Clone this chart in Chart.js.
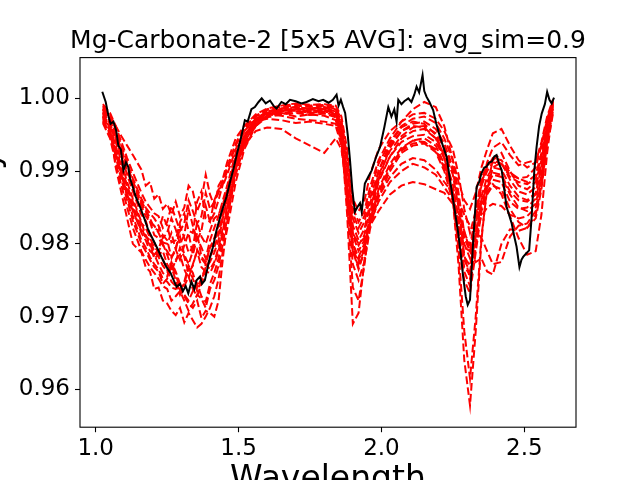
<!DOCTYPE html>
<html>
<head>
<meta charset="utf-8">
<script src="https://cdn.jsdelivr.net/npm/chart.js@4.4.1/dist/chart.umd.min.js"></script>
<style>
  html, body { margin: 0; padding: 0; background: #fff; overflow: hidden; }
  #chart { position: absolute; left: 0; top: 0; }
</style>
</head>
<body>
<canvas id="chart" width="640" height="480"></canvas>
<script>
// title / axis text
const chartTitle = 'Mg-Carbonate-2 [5x5 AVG]: avg_sim=0.9';
const xTitle = 'Wavelength';
const yTitle = 'Reflectivity';

// tick positions
const xTicks = [1.0, 1.5, 2.0, 2.5];
const yTicks = [0.96, 0.97, 0.98, 0.99, 1.00];

// wavelength grid shared by the red (neighbour pixel) spectra
const redWavelength = [1.025, 1.05, 1.07, 1.09, 1.11, 1.13,
  1.16, 1.175, 1.19, 1.205, 1.22, 1.235, 1.25, 1.265, 1.28, 1.295, 1.31, 1.325, 1.34, 1.355, 1.37, 1.385, 1.40, 1.415, 1.43, 1.445, 1.46,
  1.49, 1.52, 1.56, 1.60, 1.65, 1.70, 1.75, 1.80, 1.84,
  1.86, 1.88, 1.90, 1.92, 1.94, 1.96, 1.99, 2.03, 2.07, 2.11, 2.15, 2.19, 2.22, 2.25, 2.27,
  2.29, 2.31, 2.33, 2.35, 2.37, 2.39, 2.42, 2.45, 2.48, 2.51, 2.54, 2.56, 2.58, 2.60];

const spectrum01 = [0.9988, 0.9975, 0.9962, 0.9948, 0.9935, 0.9922,
  0.9902, 0.9880, 0.9885, 0.9862, 0.9868, 0.9848, 0.9855, 0.9840, 0.9858, 0.9838, 0.9850, 0.9880, 0.9872, 0.9845, 0.9860, 0.9895, 0.9868, 0.9852, 0.9880, 0.9890, 0.9912,
  0.9945, 0.9962, 0.9978, 0.9986, 0.9990, 0.9993, 0.9991, 0.9992, 0.9990,
  0.9975, 0.9930, 0.9862, 0.9845, 0.9858, 0.9895, 0.9930, 0.9955, 0.9968, 0.9978, 0.9980, 0.9972, 0.9955, 0.9930, 0.9895,
  0.9848, 0.9815, 0.9845, 0.9890, 0.9908, 0.9915, 0.9910, 0.9895, 0.9890, 0.9892, 0.9905, 0.9935, 0.9972, 0.9995];
const spectrum02 = [0.9980, 0.9958, 0.9905, 0.9870, 0.9835, 0.9800,
  0.9788, 0.9768, 0.9762, 0.9738, 0.9740, 0.9722, 0.9718, 0.9708, 0.9702, 0.9712, 0.9692, 0.9705, 0.9695, 0.9685, 0.9690, 0.9700, 0.9712, 0.9728, 0.9752, 0.9790, 0.9820,
  0.9885, 0.9930, 0.9962, 0.9976, 0.9983, 0.9985, 0.9982, 0.9984, 0.9980,
  0.9955, 0.9880, 0.9790, 0.9765, 0.9790, 0.9840, 0.9885, 0.9920, 0.9945, 0.9955, 0.9958, 0.9945, 0.9925, 0.9895, 0.9850,
  0.9785, 0.9752, 0.9805, 0.9860, 0.9885, 0.9898, 0.9895, 0.9872, 0.9860, 0.9858, 0.9868, 0.9905, 0.9955, 0.9990];
const spectrum03 = [0.9972, 0.9960, 0.9945, 0.9920, 0.9895, 0.9872,
  0.9840, 0.9832, 0.9812, 0.9802, 0.9785, 0.9778, 0.9765, 0.9748, 0.9742, 0.9738, 0.9728, 0.9718, 0.9712, 0.9722, 0.9698, 0.9708, 0.9705, 0.9700, 0.9722, 0.9780, 0.9830,
  0.9905, 0.9945, 0.9968, 0.9978, 0.9980, 0.9975, 0.9978, 0.9976, 0.9970,
  0.9940, 0.9870, 0.9800, 0.9778, 0.9795, 0.9830, 0.9872, 0.9905, 0.9930, 0.9942, 0.9940, 0.9928, 0.9905, 0.9870, 0.9825,
  0.9782, 0.9770, 0.9810, 0.9858, 0.9878, 0.9888, 0.9885, 0.9858, 0.9848, 0.9850, 0.9862, 0.9895, 0.9948, 0.9985];
const spectrum04 = [0.9985, 0.9968, 0.9940, 0.9912, 0.9885, 0.9862,
  0.9830, 0.9810, 0.9805, 0.9790, 0.9782, 0.9770, 0.9762, 0.9768, 0.9750, 0.9730, 0.9742, 0.9755, 0.9738, 0.9728, 0.9745, 0.9762, 0.9760, 0.9772, 0.9790, 0.9818, 0.9850,
  0.9905, 0.9942, 0.9970, 0.9982, 0.9986, 0.9988, 0.9985, 0.9987, 0.9982,
  0.9950, 0.9840, 0.9690, 0.9705, 0.9775, 0.9840, 0.9900, 0.9938, 0.9960, 0.9968, 0.9965, 0.9950, 0.9920, 0.9860, 0.9770,
  0.9640, 0.9578, 0.9680, 0.9805, 0.9880, 0.9915, 0.9925, 0.9900, 0.9880, 0.9875, 0.9885, 0.9915, 0.9962, 0.9993];
const spectrum05 = [0.9978, 0.9962, 0.9925, 0.9898, 0.9872, 0.9848,
  0.9815, 0.9805, 0.9790, 0.9785, 0.9772, 0.9760, 0.9755, 0.9775, 0.9762, 0.9745, 0.9748, 0.9770, 0.9760, 0.9740, 0.9752, 0.9768, 0.9775, 0.9788, 0.9805, 0.9835, 0.9862,
  0.9912, 0.9948, 0.9972, 0.9980, 0.9985, 0.9984, 0.9986, 0.9985, 0.9978,
  0.9945, 0.9855, 0.9740, 0.9722, 0.9770, 0.9830, 0.9890, 0.9932, 0.9955, 0.9962, 0.9960, 0.9945, 0.9918, 0.9870, 0.9790,
  0.9680, 0.9615, 0.9700, 0.9810, 0.9875, 0.9905, 0.9912, 0.9888, 0.9872, 0.9868, 0.9878, 0.9910, 0.9958, 0.9992];
const spectrum06 = [0.9975, 0.9955, 0.9930, 0.9905, 0.9880, 0.9858,
  0.9828, 0.9822, 0.9808, 0.9795, 0.9790, 0.9800, 0.9785, 0.9768, 0.9775, 0.9795, 0.9782, 0.9760, 0.9770, 0.9792, 0.9780, 0.9772, 0.9795, 0.9808, 0.9825, 0.9850, 0.9875,
  0.9920, 0.9950, 0.9968, 0.9972, 0.9970, 0.9966, 0.9968, 0.9965, 0.9962,
  0.9935, 0.9865, 0.9800, 0.9782, 0.9800, 0.9828, 0.9858, 0.9885, 0.9900, 0.9910, 0.9905, 0.9895, 0.9878, 0.9860, 0.9842,
  0.9818, 0.9790, 0.9775, 0.9780, 0.9762, 0.9758, 0.9800, 0.9820, 0.9818, 0.9822, 0.9840, 0.9880, 0.9940, 0.9982];
const spectrum07 = [0.9982, 0.9965, 0.9948, 0.9925, 0.9900, 0.9880,
  0.9852, 0.9838, 0.9830, 0.9825, 0.9815, 0.9802, 0.9800, 0.9815, 0.9792, 0.9778, 0.9798, 0.9815, 0.9785, 0.9808, 0.9795, 0.9780, 0.9805, 0.9822, 0.9838, 0.9860, 0.9880,
  0.9925, 0.9955, 0.9972, 0.9978, 0.9976, 0.9972, 0.9970, 0.9968, 0.9965,
  0.9942, 0.9880, 0.9812, 0.9790, 0.9805, 0.9835, 0.9865, 0.9892, 0.9910, 0.9918, 0.9915, 0.9902, 0.9885, 0.9870, 0.9858,
  0.9840, 0.9825, 0.9818, 0.9808, 0.9790, 0.9772, 0.9775, 0.9810, 0.9825, 0.9828, 0.9845, 0.9885, 0.9945, 0.9985];
const spectrum08 = [0.9968, 0.9950, 0.9922, 0.9895, 0.9868, 0.9845,
  0.9818, 0.9812, 0.9800, 0.9785, 0.9792, 0.9812, 0.9805, 0.9782, 0.9790, 0.9825, 0.9808, 0.9788, 0.9795, 0.9830, 0.9810, 0.9800, 0.9818, 0.9835, 0.9840, 0.9855, 0.9872,
  0.9908, 0.9935, 0.9955, 0.9960, 0.9958, 0.9945, 0.9935, 0.9925, 0.9945,
  0.9930, 0.9875, 0.9815, 0.9800, 0.9808, 0.9825, 0.9845, 0.9868, 0.9880, 0.9885, 0.9882, 0.9875, 0.9870, 0.9855, 0.9830,
  0.9795, 0.9790, 0.9812, 0.9838, 0.9850, 0.9855, 0.9852, 0.9840, 0.9835, 0.9838, 0.9850, 0.9882, 0.9935, 0.9978];
const spectrum09 = [0.9990, 0.9978, 0.9958, 0.9935, 0.9912, 0.9890,
  0.9862, 0.9850, 0.9842, 0.9835, 0.9825, 0.9808, 0.9815, 0.9835, 0.9820, 0.9800, 0.9812, 0.9848, 0.9825, 0.9805, 0.9818, 0.9852, 0.9830, 0.9842, 0.9860, 0.9882, 0.9900,
  0.9935, 0.9958, 0.9975, 0.9984, 0.9988, 0.9990, 0.9988, 0.9990, 0.9985,
  0.9968, 0.9920, 0.9850, 0.9830, 0.9845, 0.9878, 0.9915, 0.9945, 0.9968, 0.9985, 0.9995, 0.9988, 0.9962, 0.9915, 0.9885,
  0.9860, 0.9848, 0.9870, 0.9905, 0.9930, 0.9952, 0.9958, 0.9935, 0.9915, 0.9905, 0.9912, 0.9940, 0.9975, 0.9998];
const spectrum10 = [0.9984, 0.9970, 0.9950, 0.9928, 0.9905, 0.9885,
  0.9855, 0.9845, 0.9830, 0.9812, 0.9808, 0.9798, 0.9790, 0.9780, 0.9795, 0.9810, 0.9785, 0.9772, 0.9790, 0.9815, 0.9782, 0.9775, 0.9795, 0.9802, 0.9818, 0.9840, 0.9868,
  0.9915, 0.9948, 0.9970, 0.9980, 0.9983, 0.9985, 0.9982, 0.9983, 0.9980,
  0.9960, 0.9900, 0.9825, 0.9805, 0.9820, 0.9855, 0.9895, 0.9928, 0.9948, 0.9960, 0.9962, 0.9952, 0.9932, 0.9900, 0.9855,
  0.9800, 0.9780, 0.9825, 0.9880, 0.9912, 0.9932, 0.9940, 0.9922, 0.9908, 0.9912, 0.9915, 0.9935, 0.9968, 0.9996];
const spectrum11 = [0.9976, 0.9960, 0.9935, 0.9905, 0.9878, 0.9852,
  0.9822, 0.9808, 0.9798, 0.9780, 0.9785, 0.9790, 0.9772, 0.9762, 0.9778, 0.9785, 0.9765, 0.9752, 0.9772, 0.9790, 0.9768, 0.9762, 0.9782, 0.9795, 0.9812, 0.9838, 0.9862,
  0.9912, 0.9945, 0.9968, 0.9980, 0.9984, 0.9986, 0.9984, 0.9986, 0.9982,
  0.9958, 0.9890, 0.9815, 0.9798, 0.9812, 0.9848, 0.9888, 0.9920, 0.9940, 0.9948, 0.9950, 0.9940, 0.9918, 0.9882, 0.9835,
  0.9778, 0.9762, 0.9812, 0.9865, 0.9892, 0.9905, 0.9902, 0.9880, 0.9865, 0.9860, 0.9870, 0.9905, 0.9958, 0.9992];
const spectrum12 = [0.9970, 0.9952, 0.9920, 0.9888, 0.9860, 0.9832,
  0.9800, 0.9790, 0.9778, 0.9768, 0.9762, 0.9745, 0.9752, 0.9770, 0.9758, 0.9738, 0.9745, 0.9768, 0.9752, 0.9735, 0.9748, 0.9772, 0.9765, 0.9775, 0.9795, 0.9822, 0.9850,
  0.9902, 0.9940, 0.9965, 0.9978, 0.9982, 0.9983, 0.9980, 0.9982, 0.9978,
  0.9950, 0.9875, 0.9795, 0.9772, 0.9792, 0.9832, 0.9875, 0.9910, 0.9932, 0.9942, 0.9945, 0.9935, 0.9910, 0.9870, 0.9815,
  0.9762, 0.9742, 0.9795, 0.9850, 0.9880, 0.9895, 0.9892, 0.9868, 0.9850, 0.9845, 0.9855, 0.9892, 0.9950, 0.9988];
const spectrum13 = [0.9974, 0.9956, 0.9928, 0.9895, 0.9865, 0.9838,
  0.9805, 0.9795, 0.9782, 0.9772, 0.9765, 0.9752, 0.9748, 0.9740, 0.9738, 0.9745, 0.9730, 0.9722, 0.9735, 0.9745, 0.9728, 0.9720, 0.9745, 0.9760, 0.9780, 0.9812, 0.9842,
  0.9898, 0.9938, 0.9965, 0.9976, 0.9980, 0.9982, 0.9980, 0.9981, 0.9976,
  0.9948, 0.9870, 0.9790, 0.9768, 0.9788, 0.9828, 0.9870, 0.9905, 0.9928, 0.9938, 0.9940, 0.9930, 0.9905, 0.9865, 0.9810,
  0.9768, 0.9758, 0.9800, 0.9850, 0.9872, 0.9882, 0.9868, 0.9838, 0.9808, 0.9785, 0.9790, 0.9840, 0.9925, 0.9985];
const spectrum14 = [0.9986, 0.9972, 0.9952, 0.9930, 0.9908, 0.9886,
  0.9858, 0.9848, 0.9835, 0.9822, 0.9818, 0.9838, 0.9825, 0.9802, 0.9805, 0.9830, 0.9842, 0.9818, 0.9815, 0.9858, 0.9872, 0.9835, 0.9830, 0.9860, 0.9875, 0.9880, 0.9895,
  0.9930, 0.9955, 0.9972, 0.9982, 0.9986, 0.9988, 0.9986, 0.9988, 0.9985,
  0.9962, 0.9905, 0.9835, 0.9815, 0.9830, 0.9862, 0.9900, 0.9935, 0.9955, 0.9965, 0.9968, 0.9958, 0.9938, 0.9905, 0.9862,
  0.9808, 0.9790, 0.9832, 0.9880, 0.9900, 0.9912, 0.9910, 0.9892, 0.9885, 0.9882, 0.9890, 0.9920, 0.9965, 0.9995];
const spectrum15 = [0.9966, 0.9945, 0.9912, 0.9880, 0.9850, 0.9822,
  0.9790, 0.9778, 0.9768, 0.9760, 0.9752, 0.9742, 0.9738, 0.9722, 0.9728, 0.9735, 0.9722, 0.9708, 0.9718, 0.9730, 0.9725, 0.9712, 0.9738, 0.9750, 0.9770, 0.9800, 0.9835,
  0.9895, 0.9935, 0.9962, 0.9974, 0.9978, 0.9980, 0.9977, 0.9979, 0.9974,
  0.9945, 0.9862, 0.9772, 0.9750, 0.9775, 0.9820, 0.9865, 0.9900, 0.9925, 0.9935, 0.9938, 0.9926, 0.9900, 0.9858, 0.9800,
  0.9750, 0.9732, 0.9788, 0.9845, 0.9868, 0.9880, 0.9875, 0.9848, 0.9830, 0.9822, 0.9835, 0.9875, 0.9940, 0.9986];
const spectrum16 = [0.9992, 0.9980, 0.9962, 0.9940, 0.9918, 0.9898,
  0.9870, 0.9858, 0.9850, 0.9842, 0.9838, 0.9822, 0.9830, 0.9852, 0.9835, 0.9818, 0.9828, 0.9860, 0.9845, 0.9828, 0.9838, 0.9870, 0.9848, 0.9858, 0.9870, 0.9888, 0.9905,
  0.9938, 0.9960, 0.9976, 0.9985, 0.9990, 0.9992, 0.9990, 0.9991, 0.9988,
  0.9970, 0.9915, 0.9842, 0.9822, 0.9838, 0.9870, 0.9910, 0.9940, 0.9962, 0.9972, 0.9975, 0.9966, 0.9945, 0.9915, 0.9870,
  0.9815, 0.9798, 0.9838, 0.9885, 0.9905, 0.9918, 0.9915, 0.9898, 0.9890, 0.9885, 0.9895, 0.9925, 0.9968, 0.9996];

// black line: the 5x5 average spectrum
const avgWavelength = [1.023, 1.035, 1.045, 1.052, 1.062, 1.072, 1.079, 1.088, 1.097, 1.106, 1.114,
  1.120, 1.126, 1.140, 1.155, 1.170, 1.184, 1.198, 1.213, 1.230, 1.248, 1.262, 1.275, 1.283, 1.295,
  1.305, 1.315, 1.324, 1.335, 1.345, 1.353, 1.365, 1.372, 1.382, 1.392, 1.400, 1.410, 1.423, 1.440,
  1.458, 1.470, 1.481, 1.495, 1.508, 1.522, 1.532, 1.545, 1.557, 1.570, 1.581, 1.595, 1.610, 1.622,
  1.633, 1.650, 1.665, 1.680, 1.700, 1.720, 1.738, 1.760, 1.780, 1.796, 1.815, 1.830, 1.843, 1.850,
  1.858, 1.866, 1.873, 1.882, 1.890, 1.898, 1.907, 1.915, 1.925, 1.931, 1.942, 1.955, 1.966, 1.980,
  1.995, 2.010, 2.024, 2.035, 2.045, 2.053, 2.059, 2.070, 2.080, 2.094, 2.105, 2.115, 2.123, 2.132,
  2.144, 2.150, 2.158, 2.168, 2.181, 2.192, 2.205, 2.215, 2.228, 2.240, 2.255, 2.269, 2.278, 2.286,
  2.295, 2.302, 2.310, 2.320, 2.333, 2.342, 2.350, 2.360, 2.368, 2.377, 2.386, 2.395, 2.403, 2.412,
  2.421, 2.430, 2.438, 2.456, 2.465, 2.473, 2.483, 2.490, 2.496, 2.505, 2.517, 2.525, 2.535, 2.543,
  2.552, 2.561, 2.572, 2.580, 2.588, 2.596, 2.604];
const avgValue = [1.0009, 0.9995, 0.9975, 0.9965, 0.9968, 0.9955, 0.9935, 0.9930, 0.9901, 0.9912, 0.9906,
  0.9890, 0.9883, 0.9865, 0.9851, 0.9835, 0.9819, 0.9808, 0.9796, 0.9782, 0.9768, 0.9760, 0.9748, 0.9741, 0.9745,
  0.9735, 0.9742, 0.9732, 0.9748, 0.9738, 0.9750, 0.9755, 0.9745, 0.9750, 0.9768, 0.9782, 0.9795, 0.9819, 0.9843,
  0.9865, 0.9885, 0.9901, 0.9925, 0.9945, 0.9970, 0.9968, 0.9985, 0.9988, 0.9995, 1.0000, 0.9993, 0.9997, 0.9990,
  0.9986, 0.9995, 0.9992, 0.9998, 0.9996, 0.9993, 0.9995, 0.9999, 0.9996, 0.9998, 0.9994, 0.9998, 1.0005, 0.9990,
  0.9998, 0.9988, 0.9980, 0.9950, 0.9915, 0.9875, 0.9844, 0.9850, 0.9856, 0.9844, 0.9883, 0.9893, 0.9901, 0.9918,
  0.9933, 0.9960, 0.9988, 0.9975, 0.9985, 0.9968, 0.9998, 0.9992, 0.9996, 1.0000, 0.9995, 1.0005, 1.0016, 1.0008,
  1.0032, 1.0010, 1.0002, 0.9995, 0.9984, 0.9965, 0.9947, 0.9935, 0.9920, 0.9888, 0.9850, 0.9814, 0.9785, 0.9755,
  0.9728, 0.9716, 0.9723, 0.9796, 0.9878, 0.9885, 0.9897, 0.9905, 0.9906, 0.9912, 0.9913, 0.9920, 0.9922, 0.9910,
  0.9901, 0.9875, 0.9851, 0.9828, 0.9810, 0.9796, 0.9768, 0.9778, 0.9782, 0.9786, 0.9791, 0.9833, 0.9900, 0.9933,
  0.9962, 0.9979, 0.9992, 1.0009, 0.9998, 0.9993, 1.0001];

const redSpectra = [spectrum01, spectrum02, spectrum03, spectrum04, spectrum05, spectrum06, spectrum07, spectrum08,
  spectrum09, spectrum10, spectrum11, spectrum12, spectrum13, spectrum14, spectrum15, spectrum16];

function pairs(xs, ys) {
    return xs.map((x, i) => ({ x: x, y: ys[i] }));
}

// black first so it is drawn on top of the red ones
const datasets = [{
    label: 'avg',
    data: pairs(avgWavelength, avgValue),
    borderColor: '#000000',
    borderWidth: 2,
    pointRadius: 0,
    tension: 0
}];
redSpectra.forEach((s, i) => {
    datasets.push({
        label: 'pixel ' + (i + 1),
        data: pairs(redWavelength, s),
        borderColor: '#ff0000',
        borderWidth: 2,
        borderDash: [7.7, 3.3],
        pointRadius: 0,
        tension: 0
    });
});

// matplotlib-like frame and the figure texts (the axis titles run off the page)
const frameAndText = {
    id: 'frameAndText',
    afterDraw(chart) {
        const ctx = chart.ctx;
        const a = chart.chartArea;
        ctx.save();
        ctx.strokeStyle = '#000';
        ctx.lineWidth = 1.1;
        ctx.strokeRect(a.left, a.top, a.right - a.left, a.bottom - a.top);

        ctx.fillStyle = '#000';
        const cx = (a.left + a.right) / 2;
        ctx.textAlign = 'center';
        ctx.textBaseline = 'alphabetic';
        ctx.font = '25px "DejaVu Sans"';
        ctx.fillText(chartTitle, cx, 48);

        ctx.font = '33px "DejaVu Sans"';
        ctx.fillText(xTitle, cx, 489);

        ctx.translate(-1, (a.top + a.bottom) / 2);
        ctx.rotate(-Math.PI / 2);
        ctx.fillText(yTitle, 0, 0);
        ctx.restore();
    }
};

const tickFont = { family: 'DejaVu Sans', size: 23 };

new Chart(document.getElementById('chart').getContext('2d'), {
    type: 'line',
    data: { datasets: datasets },
    options: {
        responsive: false,
        animation: false,
        devicePixelRatio: 1,
        layout: { padding: { left: 0, top: 57.6, right: 64, bottom: 0 } },
        plugins: {
            legend: { display: false },
            title: { display: false },
            tooltip: { enabled: false }
        },
        scales: {
            x: {
                type: 'linear',
                min: 0.945,
                max: 2.681,
                afterFit: s => { s.height = 52.8; },
                afterBuildTicks: s => { s.ticks = xTicks.map(v => ({ value: v })); },
                border: { display: false },
                grid: { drawOnChartArea: false, drawTicks: true, tickLength: 5, tickColor: '#000', tickWidth: 1.1 },
                ticks: {
                    color: '#000',
                    font: tickFont,
                    padding: 3,
                    maxRotation: 0,
                    callback: v => v.toFixed(1)
                }
            },
            y: {
                type: 'linear',
                min: 0.9548,
                max: 1.0056,
                afterFit: s => { s.width = 80; },
                afterBuildTicks: s => { s.ticks = yTicks.map(v => ({ value: v })); },
                border: { display: false },
                grid: { drawOnChartArea: false, drawTicks: true, tickLength: 5, tickColor: '#000', tickWidth: 1.1 },
                ticks: {
                    color: '#000',
                    font: tickFont,
                    padding: 5,
                    callback: v => v.toFixed(2)
                }
            }
        }
    },
    plugins: [frameAndText]
});
</script>
</body>
</html>
